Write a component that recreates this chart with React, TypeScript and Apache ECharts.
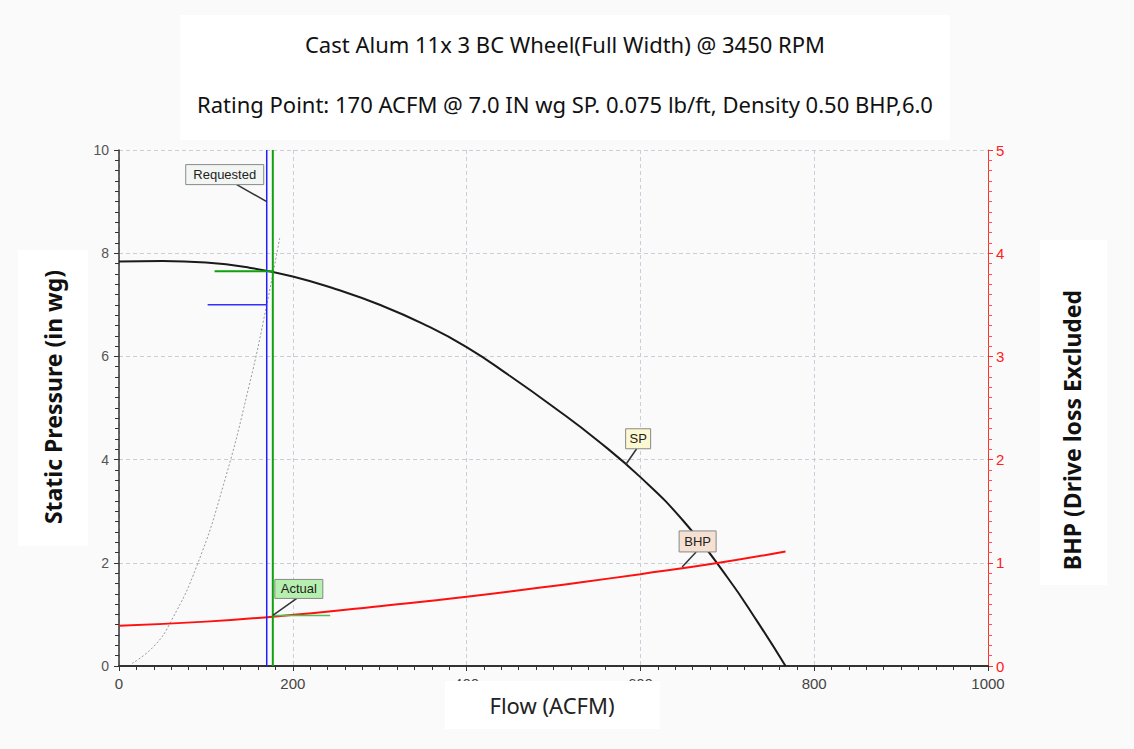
import React, { useEffect, useRef } from "react";
import * as echarts from "echarts";

const titleLine1 = "Cast Alum 11x 3 BC Wheel(Full Width) @ 3450 RPM";
const titleLine2 = "Rating Point: 170 ACFM @ 7.0 IN wg SP. 0.075 lb/ft, Density 0.50 BHP,6.0";
const xTitle = "Flow (ACFM)";
const yLeftTitle = "Static Pressure (in wg)";
const yRightTitle = "BHP (Drive loss Excluded";

const spFlow = [0, 50, 100, 150, 200, 250, 300, 350, 400, 450, 500, 550, 600, 650, 700, 735, 767];
const spValues = [7.84, 7.85, 7.82, 7.72, 7.55, 7.3, 7.0, 6.63, 6.18, 5.62, 5.02, 4.38, 3.66, 2.8, 1.72, 0.85, 0];

const bhpFlow = [0, 100, 180, 300, 400, 530, 600, 683, 767];
const bhpValues = [0.39, 0.43, 0.48, 0.58, 0.67, 0.81, 0.89, 0.99, 1.11];

const systemFlow = [15, 40, 60, 90, 120, 150, 170, 185];
const systemValues = [0.05, 0.38, 0.87, 1.96, 3.5, 5.45, 7.0, 8.3];

const requestedFlow = 170;
const requestedSP = 7.0;
const requestedMarkStart = 102;
const actualFlow = 177;
const actualSP = 7.65;
const actualSPMarkStart = 110;
const actualBHP = 0.49;
const actualBHPMarkEnd = 243;

const spCalloutAt = [583, 3.9];
const bhpCalloutAt = [648, 0.96];
const requestedCalloutSP = 9.0;

const pair = (xs: number[], ys: number[]) => xs.map((x, i) => [x, ys[i]]);

export default function App() {
  const ref = useRef<HTMLDivElement>(null);
  useEffect(() => {
    const chart = echarts.init(ref.current!, null, { renderer: "svg" });
    const tickFont = { fontFamily: "Liberation Sans", fontSize: 14 };
    chart.setOption({
      animation: false,
      backgroundColor: "#fafafa",
      grid: { left: 119, right: 146, top: 150, bottom: 83, containLabel: false },
      xAxis: {
        type: "value",
        min: 0,
        max: 1000,
        interval: 200,
        axisLine: { lineStyle: { color: "#333", width: 2 } },
        axisTick: { show: true, length: 5, lineStyle: { color: "#333" } },
        minorTick: { show: true, splitNumber: 10, length: 4, lineStyle: { color: "#333", width: 1 } },
        axisLabel: { ...tickFont, fontSize: 15, color: "#444", margin: 10, formatter: (v: number) => String(v) },
        splitLine: { show: true, lineStyle: { color: "#c9ced8", type: [4, 3], width: 1 } },
      },
      yAxis: [
        {
          type: "value",
          min: 0,
          max: 10,
          interval: 2,
          axisLine: { show: true, lineStyle: { color: "#333", width: 1.5 } },
          axisTick: { show: true, length: 5, lineStyle: { color: "#333" } },
          minorTick: { show: true, splitNumber: 10, length: 4, lineStyle: { color: "#333", width: 1 } },
          axisLabel: { ...tickFont, color: "#555", margin: 10 },
          splitLine: { show: true, lineStyle: { color: "#c9ced8", type: [4, 3], width: 1 } },
        },
        {
          type: "value",
          position: "right",
          min: 0,
          max: 5,
          interval: 1,
          axisLine: { show: true, lineStyle: { color: "#ff3030", width: 1 } },
          axisTick: { show: true, length: 5, lineStyle: { color: "#ff3030" } },
          minorTick: { show: true, splitNumber: 10, length: 4, lineStyle: { color: "#ff5050", width: 1 } },
          axisLabel: { ...tickFont, fontSize: 15, color: "#ff2020", margin: 8 },
          splitLine: { show: false },
        },
      ],
      series: [
        {
          name: "System",
          type: "line",
          smooth: true,
          symbol: "none",
          data: pair(systemFlow, systemValues),
          lineStyle: { color: "#999", width: 1, type: [2, 2] },
          z: 2,
        },
        {
          name: "SP",
          type: "line",
          smooth: true,
          symbol: "none",
          data: pair(spFlow, spValues),
          lineStyle: { color: "#1a1a1a", width: 2 },
          z: 4,
        },
        {
          name: "BHP",
          type: "line",
          smooth: true,
          symbol: "none",
          yAxisIndex: 1,
          data: pair(bhpFlow, bhpValues),
          lineStyle: { color: "#ff1010", width: 2 },
          z: 4,
        },
        {
          name: "RequestedV",
          type: "line",
          symbol: "none",
          data: [[requestedFlow, 0], [requestedFlow, 10]],
          lineStyle: { color: "#2020ff", width: 1.5 },
          z: 5,
        },
        {
          name: "RequestedH",
          type: "line",
          symbol: "none",
          data: [[requestedMarkStart, requestedSP], [requestedFlow, requestedSP]],
          lineStyle: { color: "#3030ff", width: 1.5 },
          z: 5,
        },
        {
          name: "ActualV",
          type: "line",
          symbol: "none",
          data: [[actualFlow, 0], [actualFlow, 10]],
          lineStyle: { color: "#10a010", width: 2 },
          z: 5,
        },
        {
          name: "ActualH",
          type: "line",
          symbol: "none",
          data: [[actualSPMarkStart, actualSP], [actualFlow, actualSP]],
          lineStyle: { color: "#10a010", width: 2 },
          z: 5,
        },
        {
          name: "ActualBHP",
          type: "line",
          symbol: "none",
          yAxisIndex: 1,
          data: [[actualFlow, actualBHP], [actualBHPMarkEnd, actualBHP]],
          lineStyle: { color: "#50c050", width: 1.5 },
          z: 5,
        },
      ],
    });

    const px = (f: number, v: number, yi: number) =>
      chart.convertToPixel({ xAxisIndex: 0, yAxisIndex: yi }, [f, v]) as number[];

    const callout = (
      text: string,
      tip: number[],
      cx: number,
      cy: number,
      w: number,
      h: number,
      sx: number,
      sy: number,
      fill: string
    ) => ({
      type: "group",
      z: 100,
      children: [
        {
          type: "line",
          shape: { x1: tip[0] + sx, y1: tip[1] + sy, x2: tip[0], y2: tip[1] },
          style: { stroke: "#333", lineWidth: 1.5 },
          z: 100,
        },
        {
          type: "rect",
          shape: { x: tip[0] + cx - w / 2, y: tip[1] + cy - h / 2, width: w, height: h },
          style: { fill, stroke: "#888", lineWidth: 1 },
          z: 101,
        },
        {
          type: "text",
          x: tip[0] + cx,
          y: tip[1] + cy,
          style: {
            text,
            fill: "#222",
            font: "13px 'Liberation Sans'",
            align: "center",
            verticalAlign: "middle",
          },
          z: 102,
        },
      ],
    });

    const reqTip = px(requestedFlow, requestedCalloutSP, 0);
    const actTip = px(actualFlow, actualBHP, 1);
    const spTip = px(spCalloutAt[0], spCalloutAt[1], 0);
    const bhpTip = px(bhpCalloutAt[0], bhpCalloutAt[1], 1);

    chart.setOption({
      graphic: [
        { type: "rect", shape: { x: 180, y: 15, width: 770, height: 125 }, style: { fill: "#fff" }, z: 50 },
        {
          type: "text",
          x: 565,
          y: 44,
          style: { text: titleLine1, fill: "#111", font: "22px 'Noto Sans'", align: "center", verticalAlign: "middle" },
          z: 51,
        },
        {
          type: "text",
          x: 565,
          y: 104,
          style: { text: titleLine2, fill: "#111", font: "22px 'Noto Sans'", align: "center", verticalAlign: "middle" },
          z: 51,
        },
        { type: "rect", shape: { x: 18, y: 250, width: 70, height: 296 }, style: { fill: "#fff" }, z: 50 },
        {
          type: "text",
          x: 53,
          y: 397,
          rotation: Math.PI / 2,
          style: { text: yLeftTitle, fill: "#111", font: "bold 23px 'Noto Sans'", align: "center", verticalAlign: "middle" },
          z: 51,
        },
        { type: "rect", shape: { x: 1040, y: 240, width: 67, height: 345 }, style: { fill: "#fff" }, z: 50 },
        {
          type: "text",
          x: 1072,
          y: 430,
          rotation: Math.PI / 2,
          style: { text: yRightTitle, fill: "#111", font: "bold 23px 'Noto Sans'", align: "center", verticalAlign: "middle" },
          z: 51,
        },
        { type: "rect", shape: { x: 445, y: 681, width: 215, height: 48 }, style: { fill: "#fff" }, z: 50 },
        {
          type: "text",
          x: 552,
          y: 705,
          style: { text: xTitle, fill: "#222", font: "22px 'Noto Sans'", align: "center", verticalAlign: "middle" },
          z: 51,
        },
        callout("Requested", reqTip, -42, -27, 78, 20, -30, -17, "#f2f6f2"),
        callout("Actual", actTip, 26, -26.5, 48, 19, 24, -17, "#b6f0ae"),
        callout("SP", spTip, 12.5, -26, 25, 20, 11, -16, "#fbf8d2"),
        callout("BHP", bhpTip, 15.5, -25.5, 37, 21, 14, -15, "#f6e0d2"),
      ],
    });
    return () => chart.dispose();
  }, []);
  return <div ref={ref} style={{ position: "fixed", left: 0, top: 0, width: 1134, height: 749 }} />;
}
